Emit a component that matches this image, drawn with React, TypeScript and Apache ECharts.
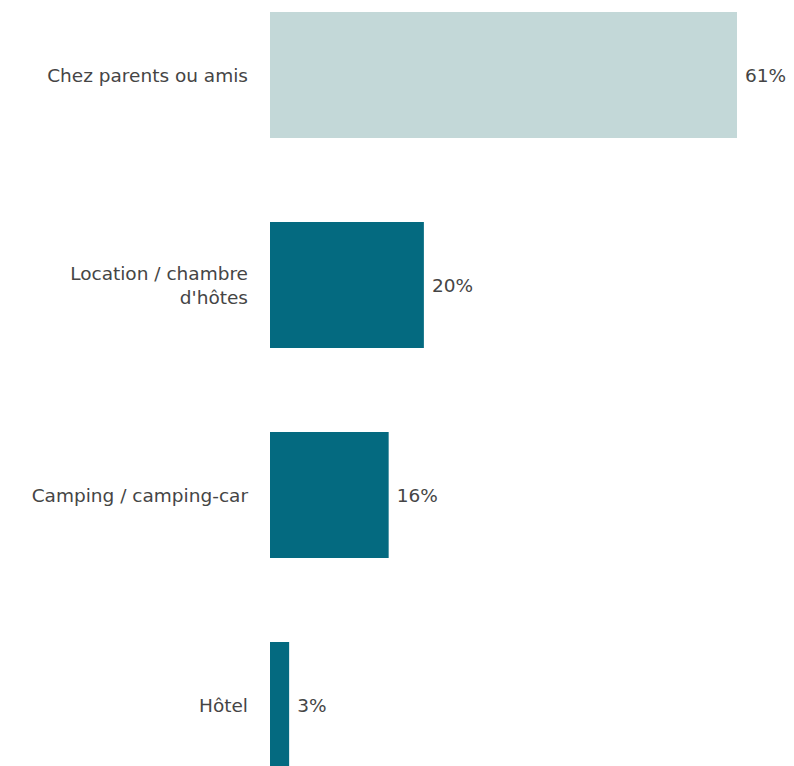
import React, { useEffect, useRef } from "react";
import * as echarts from "echarts";

const categories = [
  "Chez parents ou amis",
  "Location / chambre\nd'hôtes",
  "Camping / camping-car",
  "Hôtel",
];
const values = [61, 20.1, 15.5, 2.5];
const barColors = ["#c3d8d8", "#046a80", "#046a80", "#046a80"];

export default function App() {
  const ref = useRef<HTMLDivElement>(null);
  useEffect(() => {
    if (!ref.current) return;
    const chart = echarts.init(ref.current, undefined, { renderer: "svg" });
    chart.setOption({
      animation: false,
      grid: { left: 262, right: 49, top: 0, bottom: 0, containLabel: false },
      xAxis: {
        type: "value",
        min: 0,
        max: 61,
        show: false,
      },
      yAxis: {
        type: "category",
        inverse: true,
        data: categories,
        axisLine: { show: false },
        axisTick: { show: false },
        splitLine: { show: false },
        axisLabel: {
          margin: 22,
          color: "#454545",
          fontSize: 18.5,
          fontFamily: "DejaVu Sans",
          lineHeight: 24,
          align: "right",
        },
      },
      series: [
        {
          type: "bar",
          barCategoryGap: "40%",
          data: values.map((v, i) => ({ value: v, itemStyle: { color: barColors[i] } })),
          label: {
            show: true,
            position: "right",
            distance: 8,
            color: "#454545",
            fontSize: 18.5,
            fontFamily: "DejaVu Sans",
            formatter: (p: any) => Math.round(p.value) + "%",
          },
        },
      ],
    });
    return () => chart.dispose();
  }, []);
  return (
    <div
      ref={ref}
      style={{ width: 778, height: 840, position: "relative", top: -38 }}
    />
  );
}
